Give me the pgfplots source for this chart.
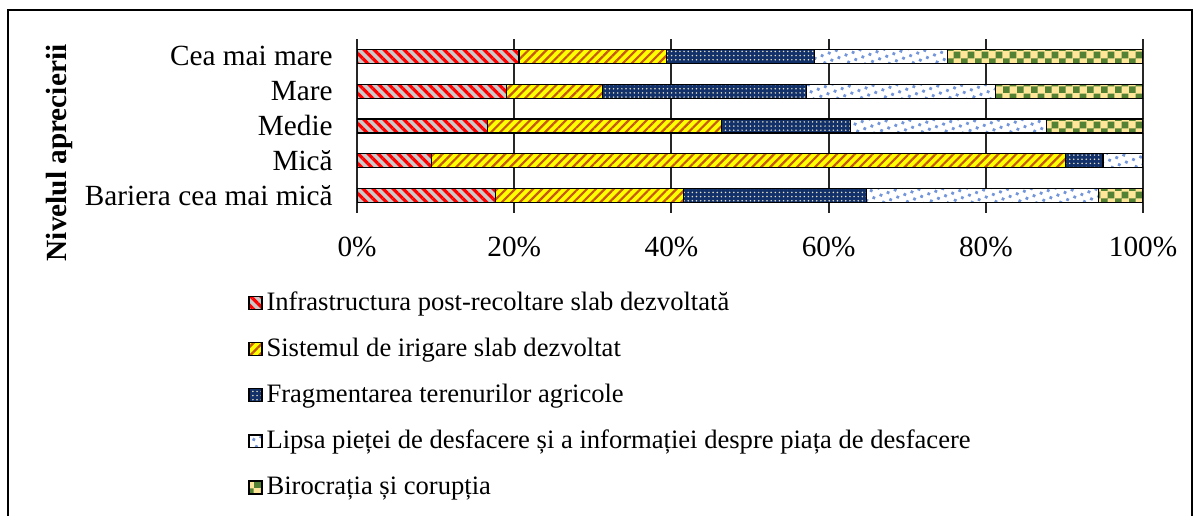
\documentclass[border=0pt]{standalone}
\usepackage{fontspec}
\setmainfont{Liberation Serif}
\usepackage{pgfplots}
\pgfplotsset{compat=1.18}
\usetikzlibrary{patterns,patterns.meta}

\definecolor{redstripe}{HTML}{FF0000}
\definecolor{graybg}{HTML}{C9C9C9}
\definecolor{yellowbg}{HTML}{FFFF00}
\definecolor{orangestripe}{HTML}{C65911}
\definecolor{navybg}{HTML}{12316B}
\definecolor{navydot}{HTML}{E6E0C0}
\definecolor{lightdot}{HTML}{7395DA}
\definecolor{greenchk}{HTML}{548235}
\definecolor{creamchk}{HTML}{FFE699}

% checkerboard with bigger squares than the stock one
\pgfdeclarepatternformonly{chk}{\pgfpointorigin}{\pgfqpoint{5.8pt}{5.8pt}}{\pgfqpoint{5.8pt}{5.8pt}}{%
  \pgfpathrectangle{\pgfpointorigin}{\pgfqpoint{2.9pt}{2.9pt}}%
  \pgfpathrectangle{\pgfqpoint{2.9pt}{2.9pt}}{\pgfqpoint{2.9pt}{2.9pt}}%
  \pgfusepath{fill}}

\newcommand{\chartfont}{\fontsize{12}{14}\selectfont}
\newcommand{\legfont}{\fontsize{10.9}{13}\selectfont}

\begin{document}
\begin{tikzpicture}
\begin{axis}[
  at={(0,0)}, anchor=south west,
  scale only axis, width=322.3pt, height=71.3pt,
  xbar stacked, bar width=5.74pt,
  xmin=0, xmax=100, ymin=-0.5, ymax=4.5,
  xtick={0,20,...,100},
  xticklabels={0\%,20\%,40\%,60\%,80\%,100\%},
  ytick={0,...,4},
  yticklabels={Bariera cea mai mică, Mică, Medie, Mare, Cea mai mare},
  axis line style={draw=none},
  major tick length=0pt,
  xmajorgrids, grid style={black!85, line width=0.8pt},
  tick label style={font=\chartfont},
  xticklabel style={anchor=base, inner sep=0pt, yshift=-17.9pt},
  yticklabel style={anchor=east, inner sep=0pt, xshift=-9.8pt},
  ylabel={\bfseries Nivelul aprecierii},
  ylabel style={font=\chartfont, at={(axis description cs:-0.378,0.345)}, anchor=center},
  legend cell align=left,
  legend style={at={(axis description cs:-0.1387,-0.439)}, anchor=north west,
    draw=none, fill=none, inner sep=0pt, row sep=7.9pt, column sep=1.6pt,
    font=\legfont, nodes={inner sep=0pt, text height=8.5pt, text depth=2.5pt}},
  legend image code/.code={\draw[#1] (0pt,-2.65pt) rectangle (5.3pt,2.65pt);},
  every axis plot/.append style={draw=black, line width=0.5pt},
]
\addplot[fill=graybg, postaction={pattern={Lines[angle=-45,distance=2.9pt,line width=1.3pt]}, pattern color=redstripe}]
  coordinates {(17.6,0) (9.5,1) (16.6,2) (19.0,3) (20.6,4)};
\addplot[fill=yellowbg, postaction={pattern={Lines[angle=45,distance=2.6pt,line width=0.9pt]}, pattern color=orangestripe}]
  coordinates {(23.9,0) (80.6,1) (29.8,2) (12.2,3) (18.8,4)};
\addplot[fill=navybg, postaction={pattern={Dots[radius=0.35pt,distance=1.7pt]}, pattern color=navydot}]
  coordinates {(23.3,0) (4.8,1) (16.4,2) (26.0,3) (18.8,4)};
\addplot[fill=white, postaction={pattern={Dots[radius=0.8pt,distance=3.1pt,angle=20]}, pattern color=lightdot}]
  coordinates {(29.5,0) (5.1,1) (24.9,2) (24.0,3) (16.9,4)};
\addplot[fill=creamchk, postaction={pattern=chk, pattern color=greenchk}]
  coordinates {(5.7,0) (0,1) (12.3,2) (18.8,3) (24.9,4)};
\legend{Infrastructura post-recoltare slab dezvoltată,
  Sistemul de irigare slab dezvoltat,
  Fragmentarea terenurilor agricole,
  Lipsa pieței de desfacere și a informației despre piața de desfacere,
  Birocrația și corupția}
\end{axis}
\draw[line width=0.8pt] (-143.1pt,-130pt) -- (-143.1pt,83.2pt) -- (342.35pt,83.2pt) -- (342.35pt,-130pt);
\pgfresetboundingbox
\useasboundingbox (-146.4pt,-124.2pt) rectangle (343.6pt,87.3pt);
\end{tikzpicture}
\end{document}
